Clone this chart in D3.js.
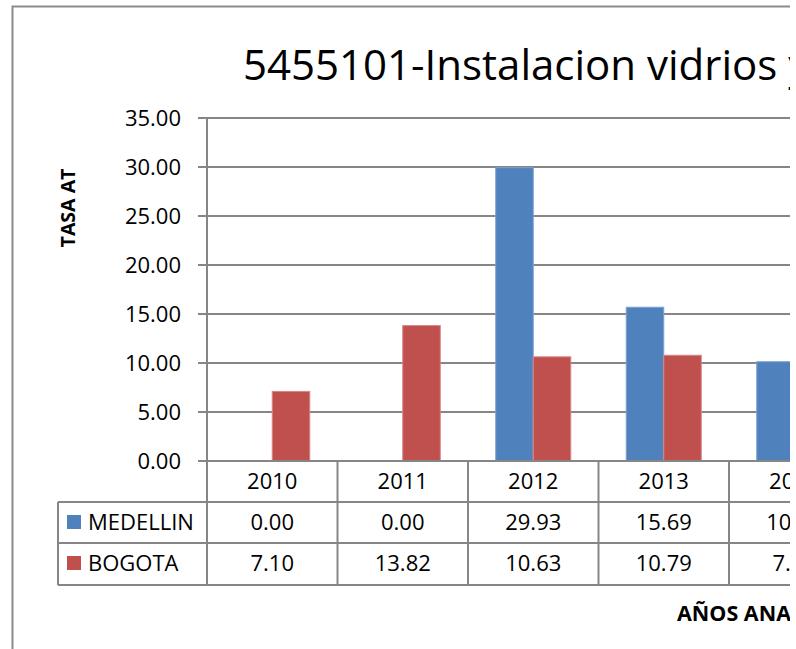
<!DOCTYPE html>
<html>
<head>
<meta charset="utf-8">
<script src="https://cdn.jsdelivr.net/npm/d3@7"></script>
<style>
  html, body { margin: 0; padding: 0; background: #fff; }
  svg { display: block; }
  text { font-family: "Open Sans", "Noto Sans", sans-serif; fill: #000; }
</style>
</head>
<body>
<svg id="chart" width="796" height="649"></svg>
<script>
// Chart data
const years = ["2010", "2011", "2012", "2013", "2014"];
const seriesNames = ["MEDELLIN", "BOGOTA"];
const medellin = [0.00, 0.00, 29.93, 15.69, 10.13];
const bogota = [7.10, 13.82, 10.63, 10.79, 7.20];
const seriesColors = ["#4F81BD", "#C0504D"];
const seriesEdges = ["#7DA1D2", "#D98583"];
const yTicks = [0, 5, 10, 15, 20, 25, 30, 35];
const titleText = "5455101-Instalacion vidrios y ventanas";
const yTitle = "TASA AT";
const xTitle = "AÑOS ANALIZADOS";

const values = [medellin, bogota];
const fmt = d3.format(".2f");

const svg = d3.select("#chart");
const gridColor = "#868686";

// Visible area ends at x = 790
svg.append("defs").append("clipPath").attr("id", "view")
  .append("rect").attr("x", 0).attr("y", 0).attr("width", 790).attr("height", 649);
const root = svg.append("g").attr("clip-path", "url(#view)");

// Layout
const plotLeft = 207, plotTop = 118, plotBottom = 461;
const bandW = 130.5;
const rowLines = [502, 543, 585];
const tableLeft = 58;

const x = d3.scaleBand().domain(years)
  .range([plotLeft, plotLeft + bandW * years.length])
  .paddingInner(0).paddingOuter(0);
const groupW = x.bandwidth() * 0.575;
const xs = d3.scaleBand().domain(seriesNames).range([0, groupW]);
const y = d3.scaleLinear().domain([0, 35]).range([plotBottom, plotTop]);
const right = x.range()[1];

// Outer chart frame
root.append("path")
  .attr("d", `M12.5,649 V6.5 H${right + 60}`)
  .attr("fill", "none").attr("stroke", "#8c8c8c").attr("stroke-width", 2);

// Title
root.append("text")
  .attr("x", 243).attr("y", 80)
  .attr("font-size", 42)
  .text(titleText);

// Horizontal gridlines with outward ticks
root.append("g").selectAll("line").data(yTicks.filter(d => d > 0)).join("line")
  .attr("x1", plotLeft - 9).attr("x2", right)
  .attr("y1", d => y(d)).attr("y2", d => y(d))
  .attr("stroke", gridColor).attr("stroke-width", 2);

// Y tick labels
root.append("g").selectAll("text").data(yTicks).join("text")
  .attr("x", 181).attr("y", d => y(d))
  .attr("dy", "0.36em")
  .attr("text-anchor", "end")
  .attr("font-size", 22)
  .text(d => fmt(d));

// Y axis title
root.append("text")
  .attr("transform", "translate(74.5,208) rotate(-90)")
  .attr("text-anchor", "middle")
  .attr("font-size", 19.5).attr("font-weight", "bold")
  .text(yTitle);

// Bars
const barData = [];
years.forEach((yr, i) => seriesNames.forEach((s, j) => {
  barData.push({ year: yr, series: s, value: values[j][i], j });
}));
root.append("g").selectAll("rect").data(barData.filter(d => d.value > 0)).join("rect")
  .attr("x", d => x(d.year) + (x.bandwidth() - groupW) / 2 + xs(d.series))
  .attr("width", xs.bandwidth())
  .attr("y", d => y(d.value))
  .attr("height", d => y(0) - y(d.value))
  .attr("fill", d => seriesColors[d.j])
  .attr("stroke", d => seriesEdges[d.j]).attr("stroke-width", 1);

// Data table lines
const tbl = root.append("g").attr("stroke", gridColor).attr("stroke-width", 2);
// axis baseline
tbl.append("line").attr("x1", plotLeft - 9).attr("x2", right)
  .attr("y1", plotBottom).attr("y2", plotBottom);
// row lines
rowLines.forEach(ry => {
  tbl.append("line").attr("x1", tableLeft).attr("x2", right).attr("y1", ry).attr("y2", ry);
});
// vertical axis line and column separators
tbl.append("line").attr("x1", plotLeft).attr("x2", plotLeft)
  .attr("y1", plotTop).attr("y2", rowLines[2]);
tbl.append("line").attr("x1", tableLeft).attr("x2", tableLeft)
  .attr("y1", rowLines[0]).attr("y2", rowLines[2]);
years.forEach(yr => {
  const xe = x(yr) + x.bandwidth();
  tbl.append("line").attr("x1", xe).attr("x2", xe)
    .attr("y1", plotBottom).attr("y2", rowLines[2]);
});

// Category labels
root.append("g").selectAll("text").data(years).join("text")
  .attr("x", d => x(d) + x.bandwidth() / 2).attr("y", 489)
  .attr("text-anchor", "middle").attr("font-size", 22)
  .text(d => d);

// Table rows: legend key, series name, values
const rowBase = [530, 571];
seriesNames.forEach((s, j) => {
  const g = root.append("g");
  g.append("rect")
    .attr("x", 67).attr("y", rowBase[j] - 15)
    .attr("width", 14).attr("height", 14)
    .attr("fill", seriesColors[j]);
  g.append("text")
    .attr("x", 88).attr("y", rowBase[j])
    .attr("font-size", 22)
    .text(s);
  g.selectAll("text.val").data(values[j]).join("text")
    .attr("class", "val")
    .attr("x", (d, i) => x(years[i]) + x.bandwidth() / 2)
    .attr("y", rowBase[j])
    .attr("text-anchor", "middle").attr("font-size", 22)
    .text(d => fmt(d));
});

// X axis title
root.append("text")
  .attr("x", 677).attr("y", 621)
  .attr("font-size", 21.5).attr("font-weight", "bold")
  .text(xTitle);
</script>
</body>
</html>
